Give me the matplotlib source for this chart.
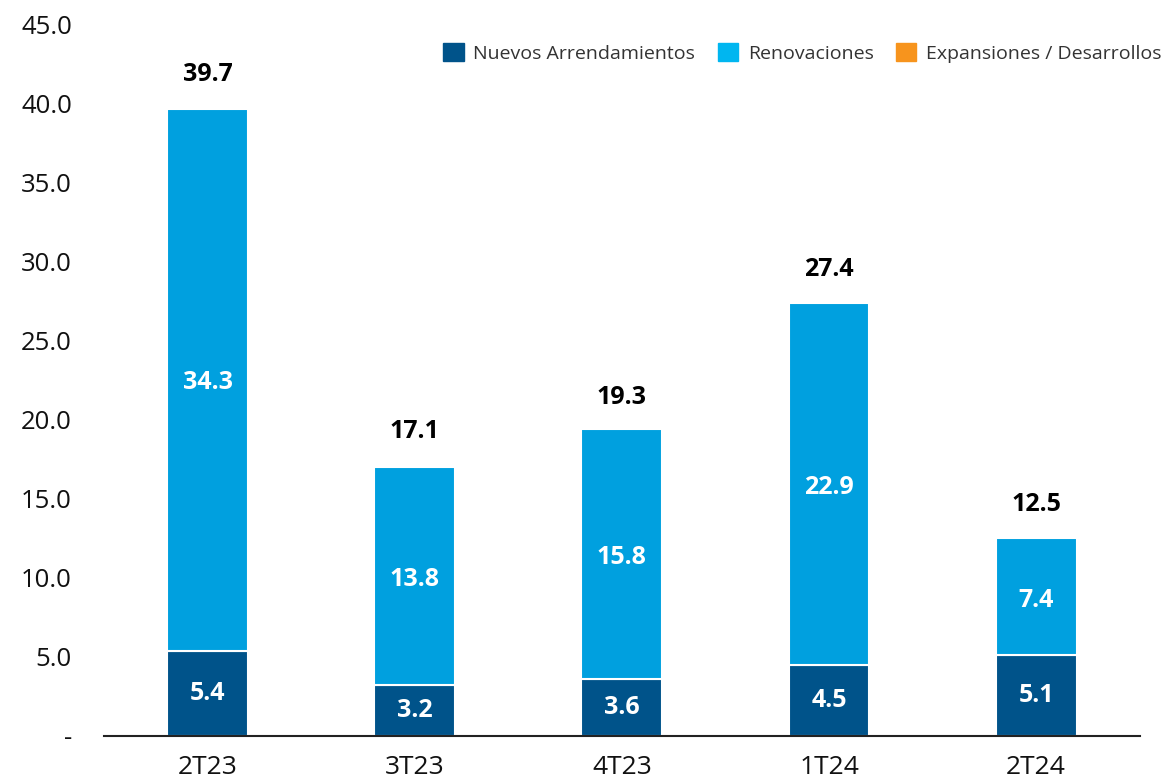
import matplotlib
matplotlib.use("Agg")
import matplotlib.pyplot as plt
from matplotlib.patches import Patch

categories = ["2T23", "3T23", "4T23", "1T24", "2T24"]
nuevos = [5.4, 3.2, 3.6, 4.5, 5.1]
renovaciones = [34.3, 13.8, 15.8, 22.9, 7.4]
expansiones = [0.0, 0.0, 0.0, 0.0, 0.0]
totales = [39.7, 17.1, 19.3, 27.4, 12.5]
yticks = [0, 5, 10, 15, 20, 25, 30, 35, 40, 45]
ytick_labels = ["-", "5.0", "10.0", "15.0", "20.0", "25.0", "30.0", "35.0", "40.0", "45.0"]
legend_labels = ["Nuevos Arrendamientos", "Renovaciones", "Expansiones / Desarrollos"]

c_dark = "#00538A"
c_light = "#00A0DF"
c_light_leg = "#00B6F0"
c_orange = "#F7941D"

plt.rcParams['font.family'] = ['Open Sans', 'DejaVu Sans']

fig = plt.figure(figsize=(11.63, 7.79), dpi=100)
ax = fig.add_axes([0.0894, 0.0552, 0.8906, 0.9128])

x = list(range(len(categories)))
w = 0.39
ax.bar(x, nuevos, width=w, color=c_dark, edgecolor="white", linewidth=1.5)
ax.bar(x, renovaciones, width=w, bottom=nuevos, color=c_light, edgecolor="white", linewidth=1.5)
bottom3 = [a + b for a, b in zip(nuevos, renovaciones)]
ax.bar(x, expansiones, width=w, bottom=bottom3, color=c_orange, linewidth=0)

for i in x:
    ax.text(i, nuevos[i] / 2, f"{nuevos[i]:.1f}", ha="center", va="center",
            color="white", fontsize=18, fontweight="bold")
    ax.text(i, nuevos[i] + renovaciones[i] / 2 - 0.2, f"{renovaciones[i]:.1f}", ha="center", va="center",
            color="white", fontsize=18, fontweight="bold")
    ax.text(i, totales[i] + 2.15, f"{totales[i]:.1f}", ha="center", va="center",
            color="black", fontsize=18, fontweight="bold")

ax.set_xlim(-0.5, len(categories) - 0.5)
ax.set_ylim(0, 45)
ax.set_yticks(yticks)
ax.set_yticklabels(ytick_labels)
ax.set_xticks(x)
ax.set_xticklabels(categories)
ax.tick_params(axis="y", length=0, pad=23, labelsize=18.5, labelcolor="#111111")
ax.tick_params(axis="x", length=0, pad=14, labelsize=19, labelcolor="#111111")
for s in ["top", "right", "left"]:
    ax.spines[s].set_visible(False)
ax.spines["bottom"].set_color("#222222")
ax.spines["bottom"].set_linewidth(1.5)

handles = [Patch(color=c_dark), Patch(color=c_light_leg), Patch(color=c_orange)]
leg = ax.legend(handles, legend_labels, loc="upper right", bbox_to_anchor=(1.038, 0.999),
                ncol=3, frameon=False, fontsize=14, handlelength=1.05, handleheight=1.05,
                columnspacing=1.15, handletextpad=0.5)
for t in leg.get_texts():
    t.set_color("#333333")

fig.savefig("out.png", dpi=100)
